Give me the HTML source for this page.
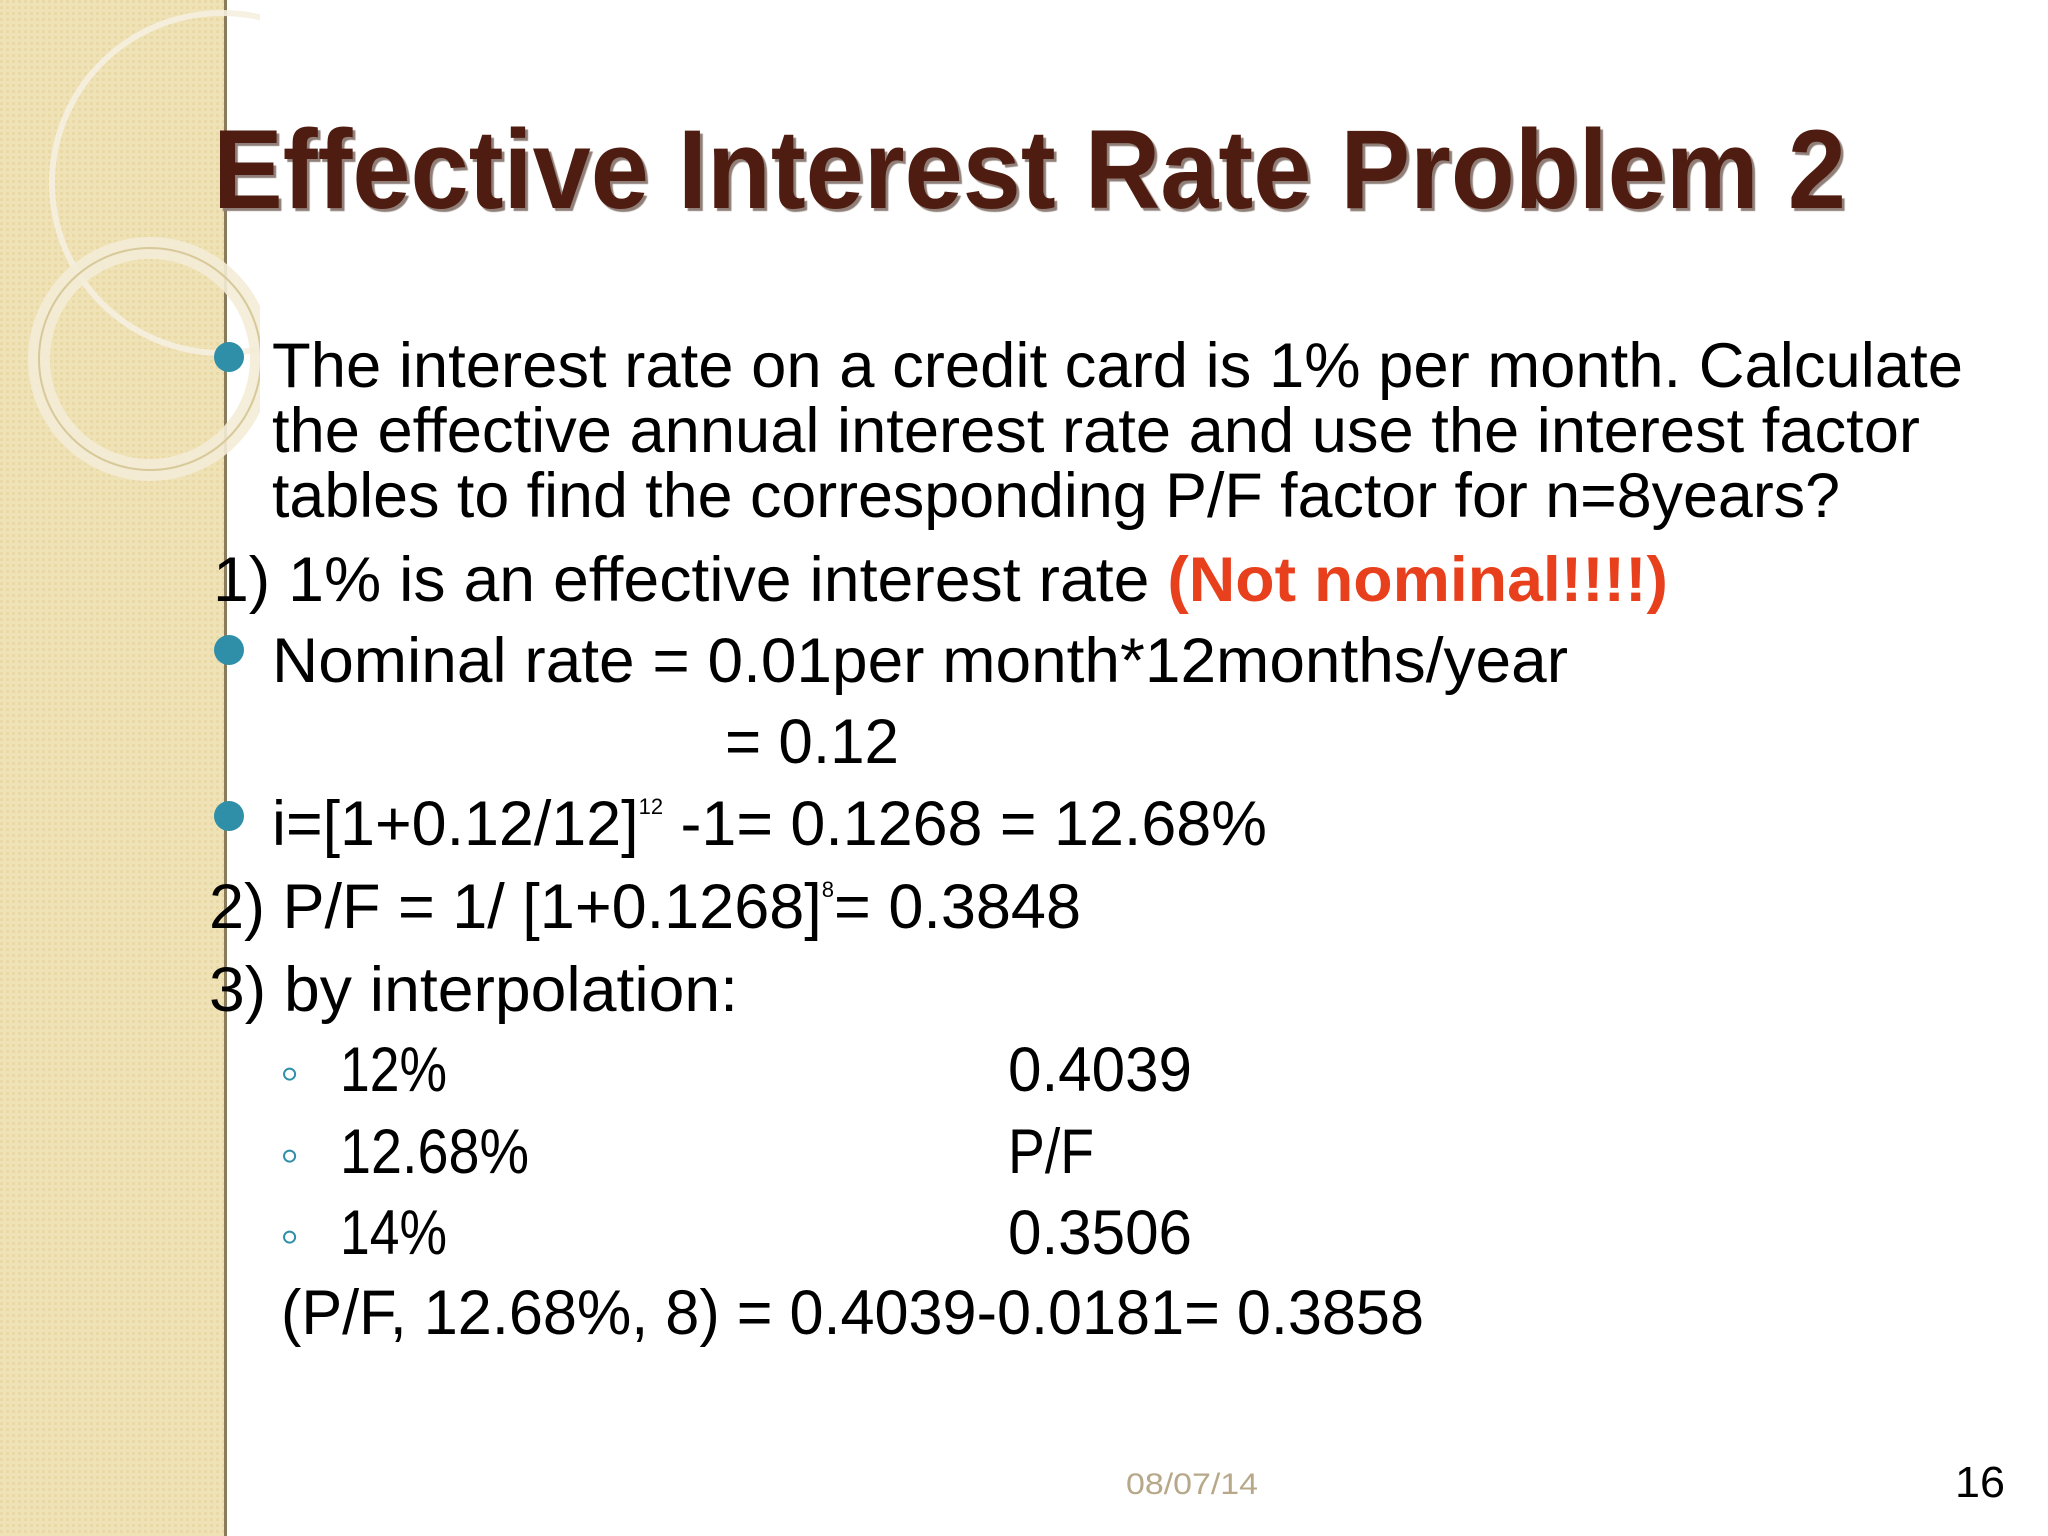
<!DOCTYPE html>
<html><head><meta charset="utf-8"><style>
body{margin:0;width:2048px;height:1536px;overflow:hidden;background:#fff;position:relative;font-family:"Liberation Sans",sans-serif;}
.t{position:absolute;white-space:nowrap;line-height:1;font-size:63px;color:#000;transform-origin:0 0;}
.b{position:absolute;width:30px;height:30px;border-radius:50%;background:#2f8fa8;}
.s{position:absolute;font-size:54px;line-height:1;color:#2f8fa8;}
sup{font-size:0.35em;vertical-align:1.4em;}
</style></head><body>
<svg style="position:absolute;left:0;top:0" width="260" height="1536">
<defs><pattern id="p" width="6" height="6" patternUnits="userSpaceOnUse"><rect width="6" height="6" fill="#efe2b6"/><rect width="3" height="3" fill="#e9d9a6"/></pattern></defs>
<rect x="0" y="0" width="226" height="1536" fill="url(#p)"/>
<rect x="224" y="0" width="3" height="1536" fill="#8a7c5a"/>
<circle cx="222" cy="183" r="170" fill="none" stroke="#f5f0e0" stroke-width="6" opacity="0.9"/>
<circle cx="150" cy="359" r="111" fill="none" stroke="#f3ecd6" stroke-width="22" opacity="0.9"/>
<circle cx="150" cy="359" r="111" fill="none" stroke="#d8c99a" stroke-width="2"/>
</svg>
<div class="t" data-w="1633" style="left:213px;top:114px;font-size:112px;font-weight:bold;color:#4e1c10;text-shadow:3px 3px 1px #8f7f78;">Effective Interest Rate Problem 2</div>
<div class="b" style="left:214px;top:342px"></div>
<div class="t" data-w="1691" style="left:272px;top:335px">The interest rate on a credit card is 1% per month. Calculate</div>
<div class="t" data-w="1648" style="left:272px;top:400px">the effective annual interest rate and use the interest factor</div>
<div class="t" data-w="1568" style="left:272px;top:465px">tables to find the corresponding P/F factor for n=8years?</div>
<div class="t" data-w="1455" style="left:213px;top:549px">1) 1% is an effective interest rate <b style="color:#e8401c">(Not nominal!!!!)</b></div>
<div class="b" style="left:214px;top:635px"></div>
<div class="t" data-w="1296" style="left:272px;top:630px">Nominal rate = 0.01per month*12months/year</div>
<div class="t" data-w="174" style="left:725px;top:711px">= 0.12</div>
<div class="b" style="left:214px;top:801px"></div>
<div class="t" data-w="995" style="left:272px;top:793px">i=[1+0.12/12]<sup>12</sup> -1= 0.1268 = 12.68%</div>
<div class="t" data-w="872" style="left:209px;top:876px">2) P/F = 1/ [1+0.1268]<sup>8</sup>= 0.3848</div>
<div class="t" data-w="529" style="left:209px;top:959px">3) by interpolation:</div>
<div class="s" style="left:280px;top:1046px">◦</div>
<div class="t" data-w="107" style="left:340px;top:1039px">12%</div>
<div class="t" data-w="184" style="left:1008px;top:1039px">0.4039</div>
<div class="s" style="left:280px;top:1128px">◦</div>
<div class="t" data-w="189" style="left:340px;top:1121px">12.68%</div>
<div class="t" data-w="86" style="left:1008px;top:1121px">P/F</div>
<div class="s" style="left:280px;top:1209px">◦</div>
<div class="t" data-w="107" style="left:340px;top:1202px">14%</div>
<div class="t" data-w="184" style="left:1008px;top:1202px">0.3506</div>
<div class="t" data-w="1143" style="left:281px;top:1282px">(P/F, 12.68%, 8) = 0.4039-0.0181= 0.3858</div>
<div class="t" data-w="132" style="left:1126px;top:1470px;font-size:30px;color:#b8a88a">08/07/14</div>
<div class="t" data-w="50" style="left:1955px;top:1461px;font-size:44px">16</div>
<script>
document.querySelectorAll('.t').forEach(function(e){
  var w=parseFloat(e.getAttribute('data-w'));var r=e.getBoundingClientRect().width;
  if(w&&r){e.style.transform='scaleX('+(w/r)+')';}
});
</script>
</body></html>
